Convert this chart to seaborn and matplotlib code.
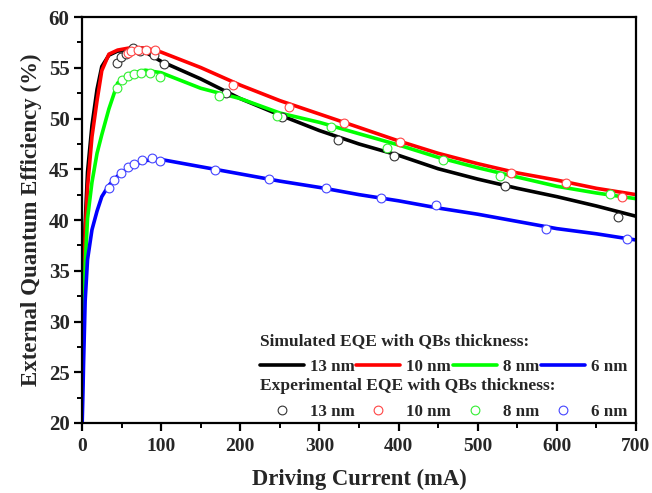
import matplotlib
matplotlib.use("Agg")
import matplotlib.pyplot as plt
import seaborn as sns
from matplotlib.lines import Line2D
from matplotlib.ticker import MultipleLocator

# ---------------- data ----------------
current_sim = [0, 1, 2, 4, 7, 12.6, 19, 25, 34, 45, 60, 80, 100, 150, 200, 250,
               300, 350, 400, 450, 500, 550, 600, 650, 700]
eqe_sim_13 = [24.40, 30.50, 34.57, 39.66, 44.74, 49.32, 52.88, 55.12, 56.24, 56.64, 56.74,
              56.54, 55.63, 53.90, 51.96, 50.34, 48.81, 47.49, 46.37, 45.05, 44.03, 43.12,
              42.30, 41.38, 40.37]
eqe_sim_10 = [24.40, 29.48, 33.55, 38.64, 43.22, 48.20, 51.76, 54.71, 56.34, 56.74, 56.95,
              56.95, 56.54, 55.02, 53.29, 51.76, 50.44, 49.12, 47.79, 46.57, 45.55, 44.64,
              43.93, 43.12, 42.50]
eqe_sim_8 = [21.35, 26.43, 30.50, 35.59, 40.16, 43.72, 46.57, 48.40, 50.95, 53.49, 54.41,
             54.76, 54.51, 52.98, 51.96, 50.54, 49.62, 48.50, 47.39, 46.17, 45.15, 44.23,
             43.32, 42.66, 42.10]
eqe_sim_6 = [19.31, 22.36, 25.92, 32.03, 36.10, 39.04, 40.88, 42.30, 43.42, 44.33, 45.25,
             45.86, 45.96, 45.25, 44.54, 43.83, 43.21, 42.50, 41.89, 41.18, 40.57, 39.86,
             39.15, 38.64, 38.03]

exp_13_x = [43.8, 49.3, 56, 64.8, 73, 91.4, 104, 182, 253, 324, 394, 535, 677]
exp_13_y = [55.49, 56.03, 56.36, 56.92, 56.64, 56.26, 55.37, 52.51, 50.15, 47.89, 46.31,
            43.35, 40.30]
exp_10_x = [57.7, 62, 71, 81, 92, 191, 262, 331, 402, 542, 611, 682]
exp_10_y = [56.42, 56.61, 56.74, 56.74, 56.74, 53.30, 51.13, 49.55, 47.68, 44.63, 43.64, 42.27]
exp_8_x = [43.8, 50, 57.7, 66, 75, 86, 99, 173, 246, 315, 385, 456, 528, 667]
exp_8_y = [53.03, 53.80, 54.19, 54.35, 54.52, 54.52, 54.06, 52.22, 50.29, 49.17, 47.09,
           45.91, 44.34, 42.56]
exp_6_x = [34, 40.6, 49, 58, 66, 76, 88.5, 98, 168, 236, 308, 378, 447, 586, 688]
exp_6_y = [43.15, 43.94, 44.63, 45.22, 45.52, 45.91, 46.10, 45.81, 44.92, 44.04, 43.15,
           42.17, 41.48, 39.12, 38.13]

labels = ["13 nm", "10 nm", "8 nm", "6 nm"]
line_colors = ["#000000", "#ff0000", "#00ff00", "#0000ff"]
marker_colors = ["#333333", "#ff4444", "#33ee33", "#4444ff"]

# ---------------- style ----------------
sns.set_theme(style="ticks")
plt.rcParams["font.family"] = ["Liberation Serif", "DejaVu Serif"]
plt.rcParams["font.weight"] = "bold"
plt.rcParams["axes.labelweight"] = "bold"

fig = plt.figure(figsize=(6.52, 4.93), dpi=100)
ax = fig.add_axes([82/652, 70/493, 554/652, 406/493])

sims = [eqe_sim_13, eqe_sim_10, eqe_sim_8, eqe_sim_6]
exps = [(exp_13_x, exp_13_y), (exp_10_x, exp_10_y), (exp_8_x, exp_8_y), (exp_6_x, exp_6_y)]

for ys, c in zip(sims, line_colors):
    sns.lineplot(x=current_sim, y=ys, color=c, lw=2.6, ax=ax, sort=False,
                 estimator=None, legend=False, zorder=2)
for (xs, ys), c in zip(exps, marker_colors):
    sns.scatterplot(x=xs, y=ys, ax=ax, marker="o", s=40, facecolor="white",
                    edgecolor=c, linewidth=0.8, legend=False, zorder=3)

ax.set_xlim(0, 700)
ax.set_ylim(20, 60)
ax.xaxis.set_major_locator(MultipleLocator(100))
ax.xaxis.set_minor_locator(MultipleLocator(50))
ax.yaxis.set_major_locator(MultipleLocator(5))
ax.yaxis.set_minor_locator(MultipleLocator(2.5))
ax.tick_params(which="major", direction="out", length=6, width=1.6, color="black")
ax.tick_params(axis="x", which="major", labelsize=14, pad=5)
ax.tick_params(axis="y", which="major", labelsize=15, pad=3)
ax.tick_params(which="minor", direction="out", length=3.5, width=1.4, color="black")
for lab in ax.get_xticklabels() + ax.get_yticklabels():
    lab.set_fontweight("bold")
for sp in ax.spines.values():
    sp.set_linewidth(1.6)
    sp.set_color("black")

ax.set_xlabel("Driving Current (mA)", fontsize=16.3, fontweight="bold", labelpad=10)
ax.set_ylabel("External Quantum Efficiency (%)", fontsize=16.5, fontweight="bold", labelpad=5)

# ---------------- legend ----------------
line_handles = [Line2D([], [], color=c, lw=2.6) for c in line_colors]
mark_handles = [Line2D([], [], ls="none", marker="o", ms=6.3, mfc="white", mec=c, mew=0.8)
                for c in marker_colors]

common = dict(ncol=4, frameon=False, fontsize=12.2, handlelength=2.6, handletextpad=0.35,
              columnspacing=0.1, borderpad=0, labelspacing=0.55, alignment="left",
              title_fontproperties={"size": 12.5, "weight": "bold"}, loc="upper left")
leg1 = ax.legend(line_handles, labels, title="Simulated EQE with QBs thickness:",
                 bbox_to_anchor=(0.306, 0.242), **common)
ax.add_artist(leg1)
leg2 = ax.legend(mark_handles, labels, title="Experimental EQE with QBs thickness:",
                 bbox_to_anchor=(0.306, 0.131), **common)
for lg in (leg1, leg2):
    for t in lg.get_texts():
        t.set_fontweight("bold")

fig.savefig("out.png", dpi=100)
